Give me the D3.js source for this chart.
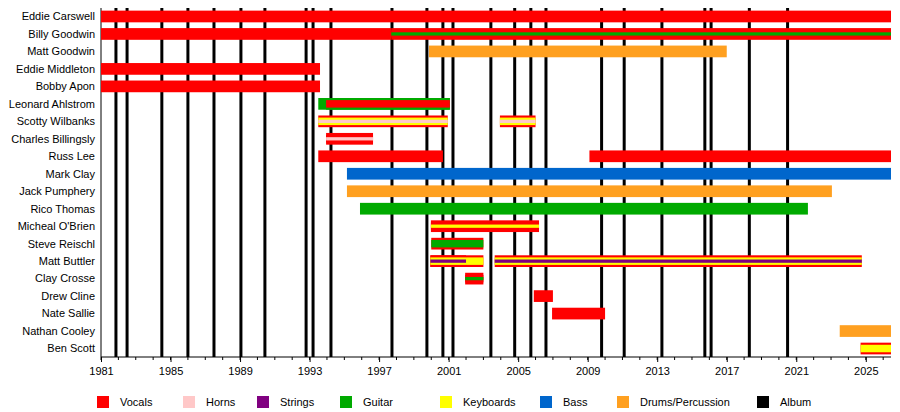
<!DOCTYPE html><html><head><meta charset="utf-8"><script src="https://cdn.jsdelivr.net/npm/d3@7"></script>
<style>body{margin:0;background:#fff}svg{font-family:"Liberation Sans",Arial,sans-serif;font-size:11px}</style></head><body><svg id="c" width="900" height="412"></svg><script>
const members=["Eddie Carswell","Billy Goodwin","Matt Goodwin","Eddie Middleton","Bobby Apon","Leonard Ahlstrom","Scotty Wilbanks","Charles Billingsly","Russ Lee","Mark Clay","Jack Pumphery","Rico Thomas","Micheal O'Brien","Steve Reischl","Matt Buttler","Clay Crosse","Drew Cline","Nate Sallie","Nathan Cooley","Ben Scott"];
const END=2026.45;
// [member, start, end, roles (outer -> inner)]
const spans=[
["Eddie Carswell",1981,END,["Vocals"]],
["Billy Goodwin",1981,1997.7,["Vocals"]],
["Billy Goodwin",1997.7,END,["Vocals","Vocals","Guitar"]],
["Matt Goodwin",1999.87,2017.0,["Drums/Percussion"]],
["Eddie Middleton",1981,1993.6,["Vocals"]],
["Bobby Apon",1981,1993.6,["Vocals"]],
["Leonard Ahlstrom",1993.5,2001.07,["Guitar"]],
["Leonard Ahlstrom",1993.95,2001.07,["Guitar","Vocals"]],
["Scotty Wilbanks",1993.5,2000.95,["Vocals","Keyboards","Horns"]],
["Scotty Wilbanks",2003.95,2006.0,["Vocals","Keyboards","Horns"]],
["Charles Billingsly",1993.95,1996.65,["Vocals","Vocals","Horns"]],
["Russ Lee",1993.5,2000.67,["Vocals"]],
["Russ Lee",2009.1,END,["Vocals"]],
["Mark Clay",1995.15,END,["Bass"]],
["Jack Pumphery",1995.15,2023.05,["Drums/Percussion"]],
["Rico Thomas",1995.9,2021.67,["Guitar"]],
["Micheal O'Brien",1999.98,2006.2,["Vocals","Vocals","Keyboards"]],
["Steve Reischl",2000.0,2003.0,["Vocals","Guitar"]],
["Matt Buttler",1999.95,2003.0,["Vocals","Keyboards"]],
["Matt Buttler",1999.95,2002.0,["Vocals","Keyboards","Strings"]],
["Matt Buttler",2003.65,2024.77,["Vocals","Keyboards","Strings"]],
["Clay Crosse",2001.95,2003.0,["Vocals","Vocals","Guitar"]],
["Drew Cline",2005.9,2007.0,["Vocals"]],
["Nate Sallie",2006.95,2010.0,["Vocals"]],
["Nathan Cooley",2023.5,END,["Drums/Percussion"]],
["Ben Scott",2024.7,END,["Vocals","Keyboards"]]
];
const albums=[1981.86,1982.5,1984.5,1986.0,1987.5,1989.05,1990.43,1992.8,1993.2,1994.23,1997.74,1999.75,2000.67,2001.25,2003.43,2004.8,2005.73,2006.6,2009.8,2011.1,2013.27,2015.74,2016.1,2018.3,2020.5];
const roles=["Vocals","Horns","Strings","Guitar","Keyboards","Bass","Drums/Percussion","Album"];
const colors=["#ff0000","#ffc8c8","#800080","#00aa00","#ffff00","#0066cc","#ffa020","#000000"];
const color=d3.scaleOrdinal(roles,colors);
const svg=d3.select("#c");
const x=d3.scaleLinear([1981,END],[101,891]);
const y=d3.scaleBand(members,[8,357]).paddingInner(0.33).paddingOuter(0.15);
const bw=y.bandwidth();
svg.append("g").selectAll("line").data(albums).join("line").attr("x1",d=>x(d)).attr("x2",d=>x(d)).attr("y1",8).attr("y2",357).attr("stroke","#000").attr("stroke-width",3);
svg.append("line").attr("x1",101).attr("x2",101).attr("y1",8).attr("y2",357).attr("stroke","#000");
const insets=[0,bw*0.18,bw*0.36];
const g=svg.append("g");
spans.forEach(s=>{s[3].forEach((r,i)=>{const ins=insets[i];
g.append("rect").attr("x",x(s[1])).attr("width",x(s[2])-x(s[1])).attr("y",y(s[0])+ins).attr("height",bw-2*ins).attr("fill",color(r));});});
svg.append("g").selectAll("text").data(members).join("text").attr("x",95).attr("y",d=>y(d)+bw/2).attr("dy","0.35em").attr("text-anchor","end").text(d=>d);
const ax=d3.axisBottom(x).tickValues(d3.range(1981,2027,4)).tickFormat(d3.format("d")).tickSize(5);
const axg=svg.append("g").attr("transform","translate(0,357)").call(ax);
axg.select(".domain").attr("d","M101,0H891");
axg.selectAll("text").attr("font-size",11).attr("font-family","Liberation Sans, Arial").attr("dy","0.9em");
svg.append("g").attr("transform","translate(0,357)").selectAll("line").data(d3.range(1981,2027)).join("line").attr("x1",d=>x(d)).attr("x2",d=>x(d)).attr("y2",3).attr("stroke","#000");
const lx=[97,183,257,340,440,540,617,757];
const lg=svg.append("g").selectAll("g").data(roles).join("g").attr("transform",(d,i)=>`translate(${lx[i]},396)`);
lg.append("rect").attr("width",12).attr("height",12).attr("fill",d=>color(d));
lg.append("text").attr("x",23).attr("y",6).attr("dy","0.35em").text(d=>d);
</script></body></html>
